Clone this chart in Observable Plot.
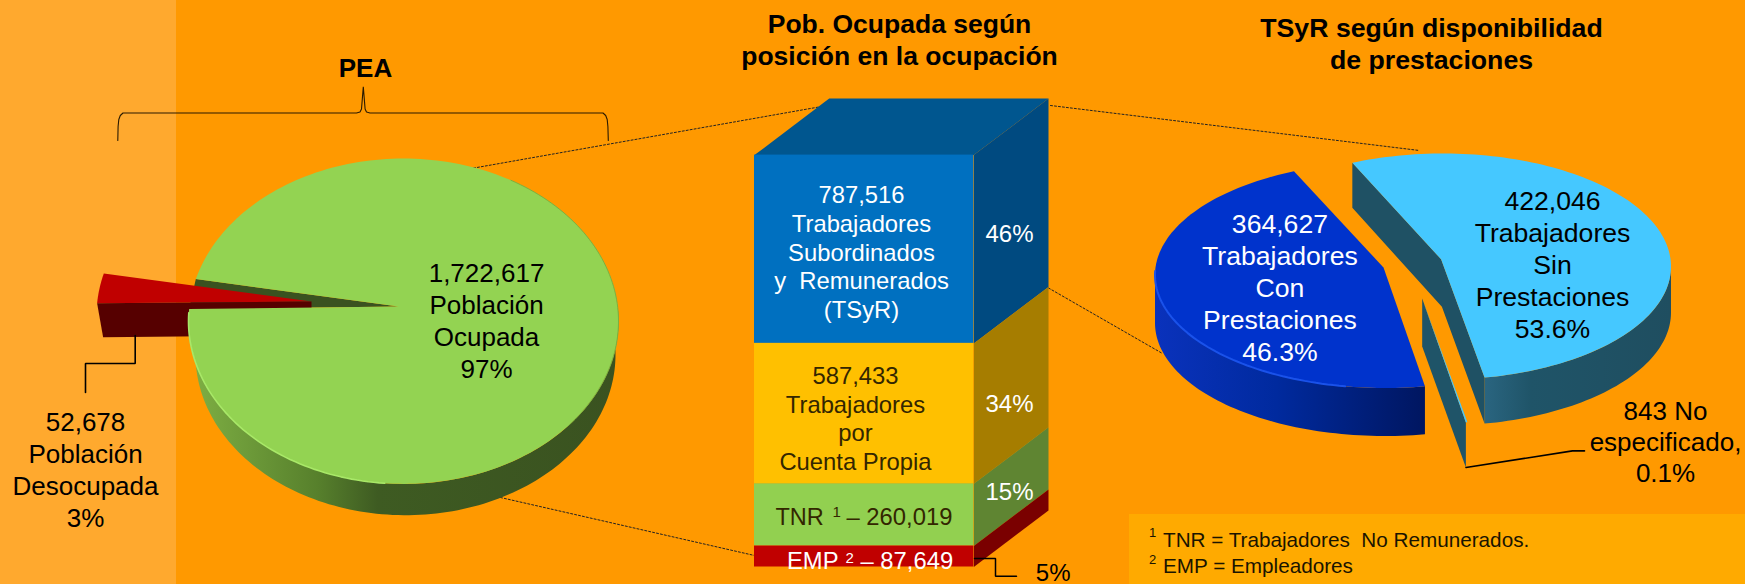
<!DOCTYPE html>
<html lang="es">
<head>
<meta charset="utf-8">
<style>html,body{margin:0;padding:0;background:#FF9900;overflow:hidden}svg{display:block}</style>
<script src="https://cdn.jsdelivr.net/npm/d3@7"></script>
<script src="https://cdn.jsdelivr.net/npm/@observablehq/plot@0.6"></script>
</head>
<body>
<div id="chart"></div>
<script>
// ---- data ----
const peaCategories = ["Población Ocupada", "Población Desocupada"];
const peaValues = [1722617, 52678];
const peaPercents = ["97%", "3%"];

const positionCategories = ["TSyR", "Cuenta Propia", "TNR", "EMP"];
const positionValues = [787516, 587433, 260019, 87649];
const positionPercents = ["46%", "34%", "15%", "5%"];

const tsyrCategories = ["Con Prestaciones", "Sin Prestaciones", "No especificado"];
const tsyrValues = [364627, 422046, 843];
const tsyrPercents = ["46.3%", "53.6%", "0.1%"];

const titles = ["PEA", "Pob. Ocupada según\nposición en la ocupación", "TSyR según disponibilidad\nde prestaciones"];
const footnotes = ["TNR = Trabajadores  No Remunerados.", "EMP = Empleadores"];

// ---- helpers ----
const W = 1745, H = 584, FONT = "Liberation Sans, Arial, sans-serif";
const fmt = d3.format(",");
const rad = Math.PI / 180;
const pt = (e, t, dy = 0) => [e.cx + e.rx * Math.cos(t * rad), e.cy + dy + e.ry * Math.sin(t * rad)];
const arc = (e, t0, t1) => {
  const n = Math.max(2, Math.ceil(Math.abs(t1 - t0) / 1.5));
  return d3.range(n + 1).map(i => pt(e, t0 + (t1 - t0) * i / n));
};
const poly = (pts, fill, stroke = "none", strokeWidth = 0) =>
  Plot.line(pts, {x: d => d[0], y: d => d[1], fill, stroke, strokeWidth, curve: "linear-closed"});
const path = (pts, stroke, strokeWidth = 1.5, extra = {}) =>
  Plot.line(pts, {x: d => d[0], y: d => d[1], stroke, strokeWidth, strokeLinejoin: "miter", ...extra});
const label = (x, y, text, opts = {}) =>
  Plot.text([text], {x: () => x, y: () => y, text: d => d, fontSize: 26, lineHeight: 1.23,
    fill: "#000", textAnchor: "middle", lineAnchor: "middle", ...opts});

// ---- gradients ----
const gradients = {
  gWall: [[0, "#7FB044"], [0.3, "#57802C"], [0.44, "#3E5B22"], [1, "#3A5220"]],
  bWall: [[0, "#0A32BC"], [0.45, "#002A9E"], [1, "#001660"]],
  cWall: [[0, "#2A6580"], [0.25, "#1F5468"], [1, "#1F4E60"]]
};
const defs = () => {
  const d = d3.create("svg:defs");
  for (const [id, stops] of Object.entries(gradients)) {
    const g = d.append("linearGradient").attr("id", id).attr("x1", 0).attr("x2", 1).attr("y1", 0).attr("y2", 0);
    for (const [o, c] of stops) g.append("stop").attr("offset", o).attr("stop-color", c);
  }
  return d.node();
};

// ---- left pie (PEA) ----
const peaTotal = d3.sum(peaValues);
const peaSpan = peaValues[1] / peaTotal * 360;
const gEllipse = {cx: 403, cy: 320.7, rx: 215, ry: 162.7};
const gBottom = {cx: 405, cy: 354.2, rx: 210, ry: 160.5};
const gApex = [398, 306];
const gapEnd = 195, gapStart = gapEnd - peaSpan;
const rEllipse = {cx: 311, cy: 315, rx: 215, ry: 162.7};
const rApex = [311, 301];
const rLow = pt(rEllipse, gapStart);
const gTL = pt(gEllipse, gapEnd), gBL = pt(gEllipse, gapStart);

const leftPie = [
  poly([...arc(gBottom, -5, 186), ...arc(gEllipse, 186, -5)], "url(#gWall)"),
  poly([gApex, gTL, gBL], "#3A5220"),
  poly([rApex, ...arc(rEllipse, gapEnd, gapStart)], "#C00000"),
  poly([rLow, [rLow[0] + 6, rLow[1] + 34], [rApex[0], rLow[1] + 32], rApex], "#560000"),
  poly([gApex, ...arc(gEllipse, gapEnd, gapStart + 360)], "#93D352"),
  path(arc(gEllipse, -60, 40), "#7DB03F", 1),
  path(arc(gEllipse, 183, 95), "#A8E868", 1.6)
];

// ---- centre stacked block ----
const posTotal = d3.sum(positionValues);
const block = {x0: 754, x1: 973.3, top: 154.6, bottom: 566.5, dx: 74.7, dy: 56.5};
const yOf = v => block.bottom - (block.bottom - block.top) * v / posTotal;
let acc = posTotal;
const segments = positionValues.map((v, i) => {
  const s = {i, y1: yOf(acc), y2: yOf(acc - v)};
  acc -= v;
  return s;
});
const frontColors = ["#0070C0", "#FFC000", "#92D050", "#C00000"];
const sideColors = ["#004A80", "#A67D00", "#5F8532", "#7A0000"];
const {x0, x1, dx, dy} = block;

const blockMarks = [
  poly([[x0, block.top], [x0 + dx, block.top - dy], [x1 + dx, block.top - dy], [x1, block.top]], "#00568F"),
  ...segments.map(s => poly([[x1, s.y1], [x1 + dx, s.y1 - dy], [x1 + dx, s.y2 - dy], [x1, s.y2]], sideColors[s.i])),
  Plot.rect(segments, {x1: () => x0, x2: () => x1, y1: d => d.y1, y2: d => d.y2, fill: d => frontColors[d.i]})
];

// ---- right pie (TSyR) ----
const tsyrTotal = d3.sum(tsyrValues);
const spans = tsyrValues.map(v => v / tsyrTotal * 360);
const bEllipse = {cx: 1384.5, cy: 274.5, rx: 230, ry: 113};
const bApex = [1383, 267], bDepth = 48;
const bStart = 80, bEnd = bStart + spans[0];
const cEllipse = {cx: 1442.5, cy: 266, rx: 228, ry: 113};
const cApex = [1440.6, 258.8], cDepth = 46;
const cEnd = 79.5, cStart = cEnd - spans[1];
const sEllipse = {cx: 1421.7, cy: 311, rx: 229, ry: 113};
const sApex = [1421.7, 298], sDepth = 45;
const sEnd = 79, sStart = sEnd - spans[2];
const cTop = pt(cEllipse, cStart), cBot = pt(cEllipse, cEnd), sEndPt = pt(sEllipse, sEnd);

const rightPie = [
  poly([...arc({...bEllipse, cy: bEllipse.cy + bDepth}, bStart, 180), ...arc(bEllipse, 180, bStart)], "url(#bWall)"),
  poly([bApex, ...arc(bEllipse, bStart, bEnd)], "#0033CC"),
  path(arc(bEllipse, 182, 100), "#1A52EA", 2),
  poly([...arc({...cEllipse, cy: cEllipse.cy + cDepth}, cEnd, 0), ...arc(cEllipse, 0, cEnd)], "url(#cWall)"),
  poly([cTop, cApex, cBot, [cBot[0], cBot[1] + cDepth], [cApex[0] + 0.8, cApex[1] + 47.5], [cTop[0], cTop[1] + 45]], "#1F5164"),
  poly([cApex, ...arc(cEllipse, cStart, cEnd)], "#45C8FF"),
  poly([sApex, sEndPt, [sEndPt[0], sEndPt[1] + sDepth], [sApex[0], sApex[1] + 48]], "#1F5468"),
  poly([sApex, ...arc(sEllipse, sStart, sEnd)], "#45C8FF")
];

// ---- connector geometry ----
const brace = [[117.3, 140], [117.6, 126], [118.3, 119], [119.8, 115], [122.5, 112.5], [356, 112.5], [359.5, 111.5], [361, 108.5],
  [362.8, 86.4], [364.6, 108.5], [366, 111.5], [369.5, 112.5], [602.5, 112.5], [605.2, 115], [606.7, 119], [607.4, 126], [607.8, 140]];
const dotted = {stroke: "#222", strokeWidth: 1, strokeDasharray: "2,2"};

// ---- chart ----
const sup = {textAnchor: "start", fontSize: 15};
const marks = [
  defs,
  Plot.rect([0], {x1: () => 0, x2: () => W, y1: () => 0, y2: () => H, fill: "#FF9900"}),
  Plot.rect([0], {x1: () => 0, x2: () => 176, y1: () => 0, y2: () => H, fill: "#FFA92E"}),
  Plot.rect([0], {x1: () => 1129, x2: () => W, y1: () => 514, y2: () => H, fill: "#FFAA00"}),

  path(brace, "#2a1a00", 1.1),
  path([[473, 167.6], [824, 105.5]], dotted.stroke, 1, dotted),
  path([[500, 497], [754, 555]], dotted.stroke, 1, dotted),
  path([[1050, 105], [1419, 150]], dotted.stroke, 1, dotted),
  path([[1048, 287.5], [1162, 353]], dotted.stroke, 1, dotted),

  ...leftPie,
  ...blockMarks,
  ...rightPie,

  path([[134.7, 335], [134.7, 363], [85, 363], [85, 392]], "#000", 1.6),
  path([[974, 558], [995, 558], [995, 575.7], [1016, 575.7]], "#000", 1.5),
  path([[1465.5, 467], [1572, 450.4], [1584, 450.4]], "#000", 1.6),

  label(365, 66, titles[0], {fontWeight: "bold"}),
  label(899, 38.5, titles[1], {fontWeight: "bold", fontSize: 26.5, lineHeight: 1.21}),
  label(1431, 42, titles[2], {fontWeight: "bold", fontSize: 26.7, lineHeight: 1.2}),

  label(486, 318.8, `${fmt(peaValues[0])}\nPoblación\nOcupada\n${peaPercents[0]}`),
  label(85, 468, `${fmt(peaValues[1])}\nPoblación\nDesocupada\n${peaPercents[1]}`),

  label(861, 251, `${fmt(positionValues[0])}\nTrabajadores\nSubordinados\ny  Remunerados\n(TSyR)`, {fill: "#fff", fontSize: 23.8, lineHeight: 1.205}),
  label(855, 417.4, `${fmt(positionValues[1])}\nTrabajadores\npor\nCuenta Propia`, {fill: "#332600", fontSize: 23.8, lineHeight: 1.205}),

  label(775, 515, "TNR", {textAnchor: "start", fill: "#332600", fontSize: 23.5}),
  label(832, 510.5, "1", {...sup, fill: "#332600"}),
  label(846, 515, `– ${fmt(positionValues[2])}`, {textAnchor: "start", fill: "#332600", fontSize: 23.8}),
  label(786.5, 559.5, "EMP", {textAnchor: "start", fill: "#fff", fontSize: 23.8}),
  label(845, 556.5, "2", {...sup, fill: "#fff"}),
  label(860, 559.5, `– ${fmt(positionValues[3])}`, {textAnchor: "start", fill: "#fff", fontSize: 23.8}),

  label(1009, 231.7, positionPercents[0], {fill: "#fff", fontSize: 24}),
  label(1009, 402, positionPercents[1], {fill: "#fff", fontSize: 24}),
  label(1009, 490, positionPercents[2], {fill: "#fff", fontSize: 24}),
  label(1052.7, 571, positionPercents[3], {fontSize: 24}),

  label(1279.4, 286, `${fmt(tsyrValues[0])}\nTrabajadores\nCon\nPrestaciones\n${tsyrPercents[0]}`, {fill: "#fff", fontSize: 26.6, lineHeight: 1.205}),
  label(1552, 263, `${fmt(tsyrValues[1])}\nTrabajadores\nSin\nPrestaciones\n${tsyrPercents[1]}`, {fontSize: 26.6, lineHeight: 1.205}),
  label(1665, 441, `${fmt(tsyrValues[2])} No\nespecificado,\n${tsyrPercents[2]}`, {lineHeight: 1.19}),

  label(1148.5, 531, "1", {textAnchor: "start", fontSize: 13, fill: "#1a1400"}),
  label(1162.5, 538, footnotes[0], {textAnchor: "start", fontSize: 20.7, fill: "#1a1400"}),
  label(1148.5, 558, "2", {textAnchor: "start", fontSize: 13, fill: "#1a1400"}),
  label(1162.5, 564, footnotes[1], {textAnchor: "start", fontSize: 20.7, fill: "#1a1400"})
];

const chart = Plot.plot({
  width: W, height: H,
  margin: 0,
  x: {type: "linear", domain: [0, W], range: [0, W], axis: null},
  y: {type: "linear", domain: [0, H], range: [0, H], axis: null},
  style: {background: "#FF9900", fontFamily: FONT},
  marks
});
document.getElementById("chart").append(chart);
</script>
</body>
</html>
